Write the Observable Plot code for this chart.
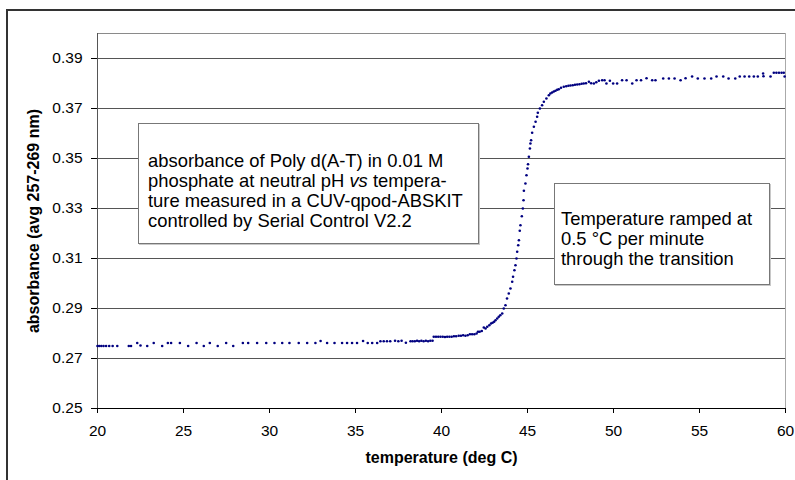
<!DOCTYPE html>
<html><head><meta charset="utf-8">
<script src="https://cdn.jsdelivr.net/npm/d3@7"></script>
<script src="https://cdn.jsdelivr.net/npm/@observablehq/plot@0.6"></script>
<style>
body{margin:0;background:#fff;font-family:"Liberation Sans",Arial,sans-serif;}
#wrap{position:relative;width:795px;height:480px;overflow:hidden;background:#fff;}
#frame{position:absolute;left:6px;top:9px;width:820px;height:500px;border:2px solid #333;box-sizing:border-box;}
#chart{position:absolute;left:0;top:0;}
.note{position:absolute;background:#fff;border:1px solid #777;box-shadow:1px 1px 0 #c8c8c8;font-size:18.4px;line-height:20px;color:#000;box-sizing:border-box;white-space:nowrap;}
</style></head>
<body>
<div id="wrap">
  <div id="frame"></div>
  <div id="chart"></div>
  <div class="note" id="note1" style="left:138px;top:123px;width:341px;height:121px;padding:27px 0 0 9px;"></div>
  <div class="note" id="note2" style="left:554px;top:183px;width:216px;height:102px;padding:25px 0 0 6px;"></div>
</div>
<script>
// temperature (deg C)
const temperature = [
 20.00,20.10,20.22,20.35,20.50,20.68,20.88,21.15,21.82,21.95,
 22.31,22.50,22.89,23.27,23.76,24.09,24.28,24.79,25.27,25.76,
 26.18,26.53,26.99,27.48,27.89,28.45,28.76,29.28,29.81,30.29,
 30.74,31.16,31.70,32.19,32.67,32.97,33.35,33.78,34.22,34.51,
 34.80,35.09,35.44,35.71,35.97,36.26,
 36.45,36.64,36.83,37.02,37.30,37.49,37.68,37.93,38.20,38.32,
 38.45,38.58,38.70,38.83,38.96,39.09,39.22,39.35,39.48,39.55,
 39.68,39.81,39.94,40.07,40.20,40.33,40.46,40.59,40.72,40.85,
 41.00,41.13,41.26,41.39,41.52,41.65,41.78,41.91,42.04,42.12,
 42.22,42.34,42.46,42.56,42.66,42.78,42.88,42.97,43.06,43.14,
 43.24,43.33,43.42,43.53,43.62,43.72,43.81,43.91,44.01,44.11,
 44.16,44.24,44.30,44.36,44.40,44.46,44.50,44.55,44.59,44.67,
 44.73,44.77,44.79,44.88,44.94,45.00,45.03,45.08,45.14,45.17,
 45.21,45.27,45.37,45.47,45.56,45.60,45.72,45.85,45.95,46.10,
 46.24,46.33,46.43,46.53,46.63,46.73,46.82,46.95,47.11,47.25,
 47.38,47.50,47.63,47.76,47.89,48.02,48.15,48.27,48.40,48.57,
 48.70,48.86,49.00,49.15,49.34,49.48,49.59,49.79,49.98,50.21,
 50.50,50.76,51.09,51.34,51.60,51.92,52.25,52.44,52.89,53.22,
 53.55,53.90,54.19,54.57,54.90,55.29,55.68,55.99,56.38,56.69,
 57.08,57.34,57.62,57.89,58.16,58.39,58.70,58.72,59.13,59.32,
 59.47,59.62,59.77,59.90,59.95
];
// absorbance (avg 257-269 nm)
const absorbance = [
 0.2750,0.2750,0.2750,0.2750,0.2750,0.2750,0.2750,0.2750,0.2750,0.2750,
 0.2762,0.2752,0.2750,0.2762,0.2750,0.2762,0.2762,0.2762,0.2750,0.2762,
 0.2750,0.2762,0.2750,0.2762,0.2750,0.2762,0.2762,0.2762,0.2762,0.2762,
 0.2762,0.2762,0.2762,0.2762,0.2762,0.2770,0.2762,0.2762,0.2762,0.2762,
 0.2762,0.2762,0.2770,0.2762,0.2762,0.2762,
 0.2769,0.2769,0.2769,0.2769,0.2771,0.2769,0.2771,0.2763,0.2769,0.2769,
 0.2769,0.2771,0.2769,0.2771,0.2769,0.2771,0.2769,0.2771,0.2771,0.2787,
 0.2787,0.2787,0.2787,0.2787,0.2786,0.2787,0.2787,0.2787,0.2789,0.2789,
 0.2791,0.2791,0.2793,0.2791,0.2793,0.2797,0.2797,0.2797,0.2800,0.2807,
 0.2807,0.2810,0.2824,0.2820,0.2827,0.2833,0.2840,0.2843,0.2847,0.2853,
 0.2860,0.2867,0.2873,0.2880,0.2900,0.2913,0.2940,0.2960,0.2980,0.3007,
 0.3027,0.3053,0.3073,0.3100,0.3127,0.3153,0.3173,0.3211,0.3233,0.3269,
 0.3300,0.3333,0.3371,0.3400,0.3433,0.3460,0.3477,0.3507,0.3540,0.3560,
 0.3573,0.3603,0.3627,0.3647,0.3667,0.3683,0.3700,0.3713,0.3727,0.3740,
 0.3753,0.3760,0.3764,0.3768,0.3771,0.3775,0.3777,0.3783,0.3787,0.3789,
 0.3791,0.3792,0.3793,0.3795,0.3796,0.3797,0.3799,0.3800,0.3801,0.3807,
 0.3801,0.3800,0.3805,0.3811,0.3813,0.3813,0.3800,0.3811,0.3800,0.3800,
 0.3813,0.3813,0.3800,0.3813,0.3813,0.3821,0.3813,0.3813,0.3820,0.3820,
 0.3820,0.3813,0.3821,0.3828,0.3820,0.3820,0.3820,0.3828,0.3828,0.3820,
 0.3820,0.3828,0.3828,0.3828,0.3828,0.3828,0.3840,0.3829,0.3828,0.3843,
 0.3843,0.3843,0.3843,0.3843,0.3828
];
const xTicks = [20, 25, 30, 35, 40, 45, 50, 55, 60];
const yTicks = [0.25, 0.27, 0.29, 0.31, 0.33, 0.35, 0.37, 0.39];
const gridLines = [0.27, 0.29, 0.31, 0.33, 0.35, 0.37, 0.39];
const xTitle = "temperature (deg C)";
const yTitle = "absorbance (avg 257-269 nm)";
const note1Lines = ["absorbance of Poly d(A-T) in 0.01 M", "phosphate at neutral pH <i>vs</i> tempera-", "ture measured in a CUV-qpod-ABSKIT", "controlled by Serial Control V2.2"];
const note2Lines = ["Temperature ramped at", "0.5 °C per minute", "through the transition"];

const points = temperature.map((t, i) => ({t, a: absorbance[i]}));

const chart = Plot.plot({
  width: 795, height: 480,
  marginLeft: 97, marginRight: 10, marginTop: 33, marginBottom: 72,
  style: {background: "transparent", fontFamily: "'Liberation Sans', Arial, sans-serif", fontSize: "15.5px", color: "#000"},
  x: {domain: [20, 60]},
  y: {domain: [0.25, 0.40]},
  marks: [
    Plot.ruleY(gridLines, {stroke: "#555", strokeWidth: 1}),
    Plot.ruleY([0.40], {stroke: "#8a8a8a"}),
    Plot.ruleX([60], {stroke: "#aaa"}),
    Plot.axisY({ticks: yTicks, tickFormat: d3.format(".2f"), tickSize: 6, tickPadding: 9, label: null}),
    Plot.axisX({ticks: xTicks, tickSize: 5, tickPadding: 11, label: null}),
    Plot.ruleX([20], {stroke: "#555"}),
    Plot.ruleY([0.25], {stroke: "#000"}),
    Plot.dot(points, {x: "t", y: "a", r: 1.3, fill: "#000080", stroke: "none"}),
    Plot.text([xTitle], {frameAnchor: "bottom", dy: 54, fontWeight: "bold", fontSize: 16, fill: "#000"}),
    Plot.text([yTitle], {frameAnchor: "left", textAnchor: "middle", dx: -64, rotate: -90, fontWeight: "bold", fontSize: 16, fill: "#000"})
  ]
});
document.getElementById("chart").appendChild(chart);
document.getElementById("note1").innerHTML = note1Lines.join("<br>");
document.getElementById("note2").innerHTML = note2Lines.join("<br>");
</script>
</body></html>
